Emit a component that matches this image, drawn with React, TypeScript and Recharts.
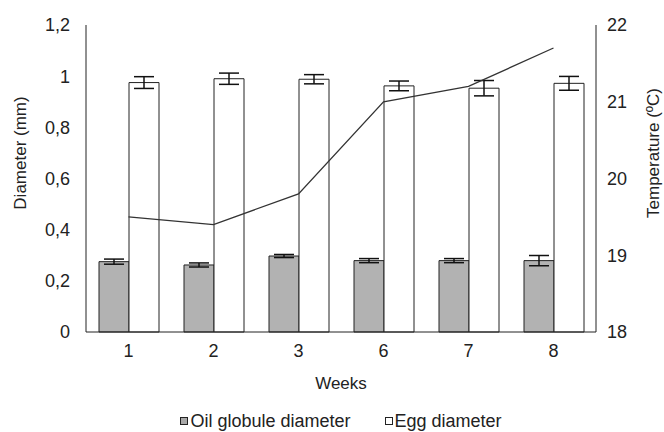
import { ComposedChart, Bar, Line, XAxis, YAxis, Legend, ErrorBar } from 'recharts';

const WEEKS = ['1', '2', '3', '6', '7', '8'];
const OIL_DIAMETER = [0.275, 0.262, 0.297, 0.279, 0.279, 0.279];
const OIL_ERROR = [0.01, 0.008, 0.006, 0.008, 0.008, 0.02];
const EGG_DIAMETER = [0.975, 0.99, 0.988, 0.962, 0.953, 0.972];
const EGG_ERROR = [0.023, 0.022, 0.018, 0.019, 0.03, 0.027];
const TEMPERATURE = [19.5, 19.4, 19.8, 21.0, 21.2, 21.7];
const DIAMETER_TICKS = [0, 0.2, 0.4, 0.6, 0.8, 1, 1.2];
const TEMP_TICKS = [18, 19, 20, 21, 22];

const data = WEEKS.map((week, i) => ({
  week,
  oil: OIL_DIAMETER[i],
  oilErr: OIL_ERROR[i],
  egg: EGG_DIAMETER[i],
  eggErr: EGG_ERROR[i],
  temp: TEMPERATURE[i],
}));

const FONT = '"Liberation Sans", Arial, sans-serif';
const TEXT = '#222';

const commaFmt = (v: number) => String(v).replace('.', ',');

const renderLegend = () => (
  <div style={{ display: 'flex', justifyContent: 'center', paddingLeft: 18, fontFamily: FONT, fontSize: 18, color: TEXT, lineHeight: '22px' }}>
    <span style={{ display: 'flex', alignItems: 'center', marginRight: 34 }}>
      <span style={{ width: 6, height: 6, border: '1px solid #222', background: '#a8a8a8', marginRight: 2 }} />
      Oil globule diameter
    </span>
    <span style={{ display: 'flex', alignItems: 'center' }}>
      <span style={{ width: 6, height: 6, border: '1px solid #222', background: '#fff', marginRight: 2 }} />
      Egg diameter
    </span>
  </div>
);

const App = () => {
  return (
    <div style={{ position: 'absolute', left: 0, top: 0, background: '#fff' }}>
      <ComposedChart
        width={664}
        height={432}
        data={data}
        margin={{ top: 25, right: 0, bottom: 16, left: 0 }}
        barGap={0}
        barCategoryGap={13}
      >
        <XAxis
          dataKey="week"
          height={62}
          tickLine={false}
          tickMargin={6}
          axisLine={{ stroke: '#222' }}
          tick={{ fill: TEXT, fontSize: 18, fontFamily: FONT }}
          label={{ value: 'Weeks', position: 'insideBottom', offset: 5, fill: TEXT, fontSize: 17, fontFamily: FONT }}
        />
        <YAxis
          yAxisId="left"
          width={86}
          domain={[0, 1.2]}
          ticks={DIAMETER_TICKS}
          tickFormatter={commaFmt}
          tickLine={false}
          tickMargin={10}
          axisLine={{ stroke: '#222' }}
          tick={{ fill: TEXT, fontSize: 18, fontFamily: FONT }}
          label={() => (
            <text x={20} y={153} transform="rotate(-90 20 153)" textAnchor="middle" dominantBaseline="central"
              fill={TEXT} fontSize={17} fontFamily={FONT}>Diameter (mm)</text>
          )}
        />
        <YAxis
          yAxisId="right"
          orientation="right"
          width={68}
          domain={[18, 22]}
          ticks={TEMP_TICKS}
          tickLine={false}
          tickMargin={5}
          axisLine={{ stroke: '#222' }}
          tick={{ fill: TEXT, fontSize: 18, fontFamily: FONT }}
          label={() => (
            <text x={653} y={153} transform="rotate(-90 653 153)" textAnchor="middle" dominantBaseline="central"
              fill={TEXT} fontSize={17} fontFamily={FONT}>Temperature (ºC)</text>
          )}
        />
        <Legend verticalAlign="bottom" content={renderLegend} wrapperStyle={{ bottom: 0, height: 22 }} />
        <Bar yAxisId="left" dataKey="oil" name="Oil globule diameter" fill="#b2b2b2" stroke="#222" strokeWidth={1} isAnimationActive={false}>
          <ErrorBar dataKey="oilErr" width={10} stroke="#111" strokeWidth={1.5} />
        </Bar>
        <Bar yAxisId="left" dataKey="egg" name="Egg diameter" fill="#fff" stroke="#222" strokeWidth={1} isAnimationActive={false}>
          <ErrorBar dataKey="eggErr" width={10} stroke="#111" strokeWidth={1.5} />
        </Bar>
        <Line yAxisId="right" dataKey="temp" type="linear" stroke="#333" strokeWidth={1.3} dot={false} legendType="none" isAnimationActive={false} />
      </ComposedChart>
    </div>
  );
};

export default App;
